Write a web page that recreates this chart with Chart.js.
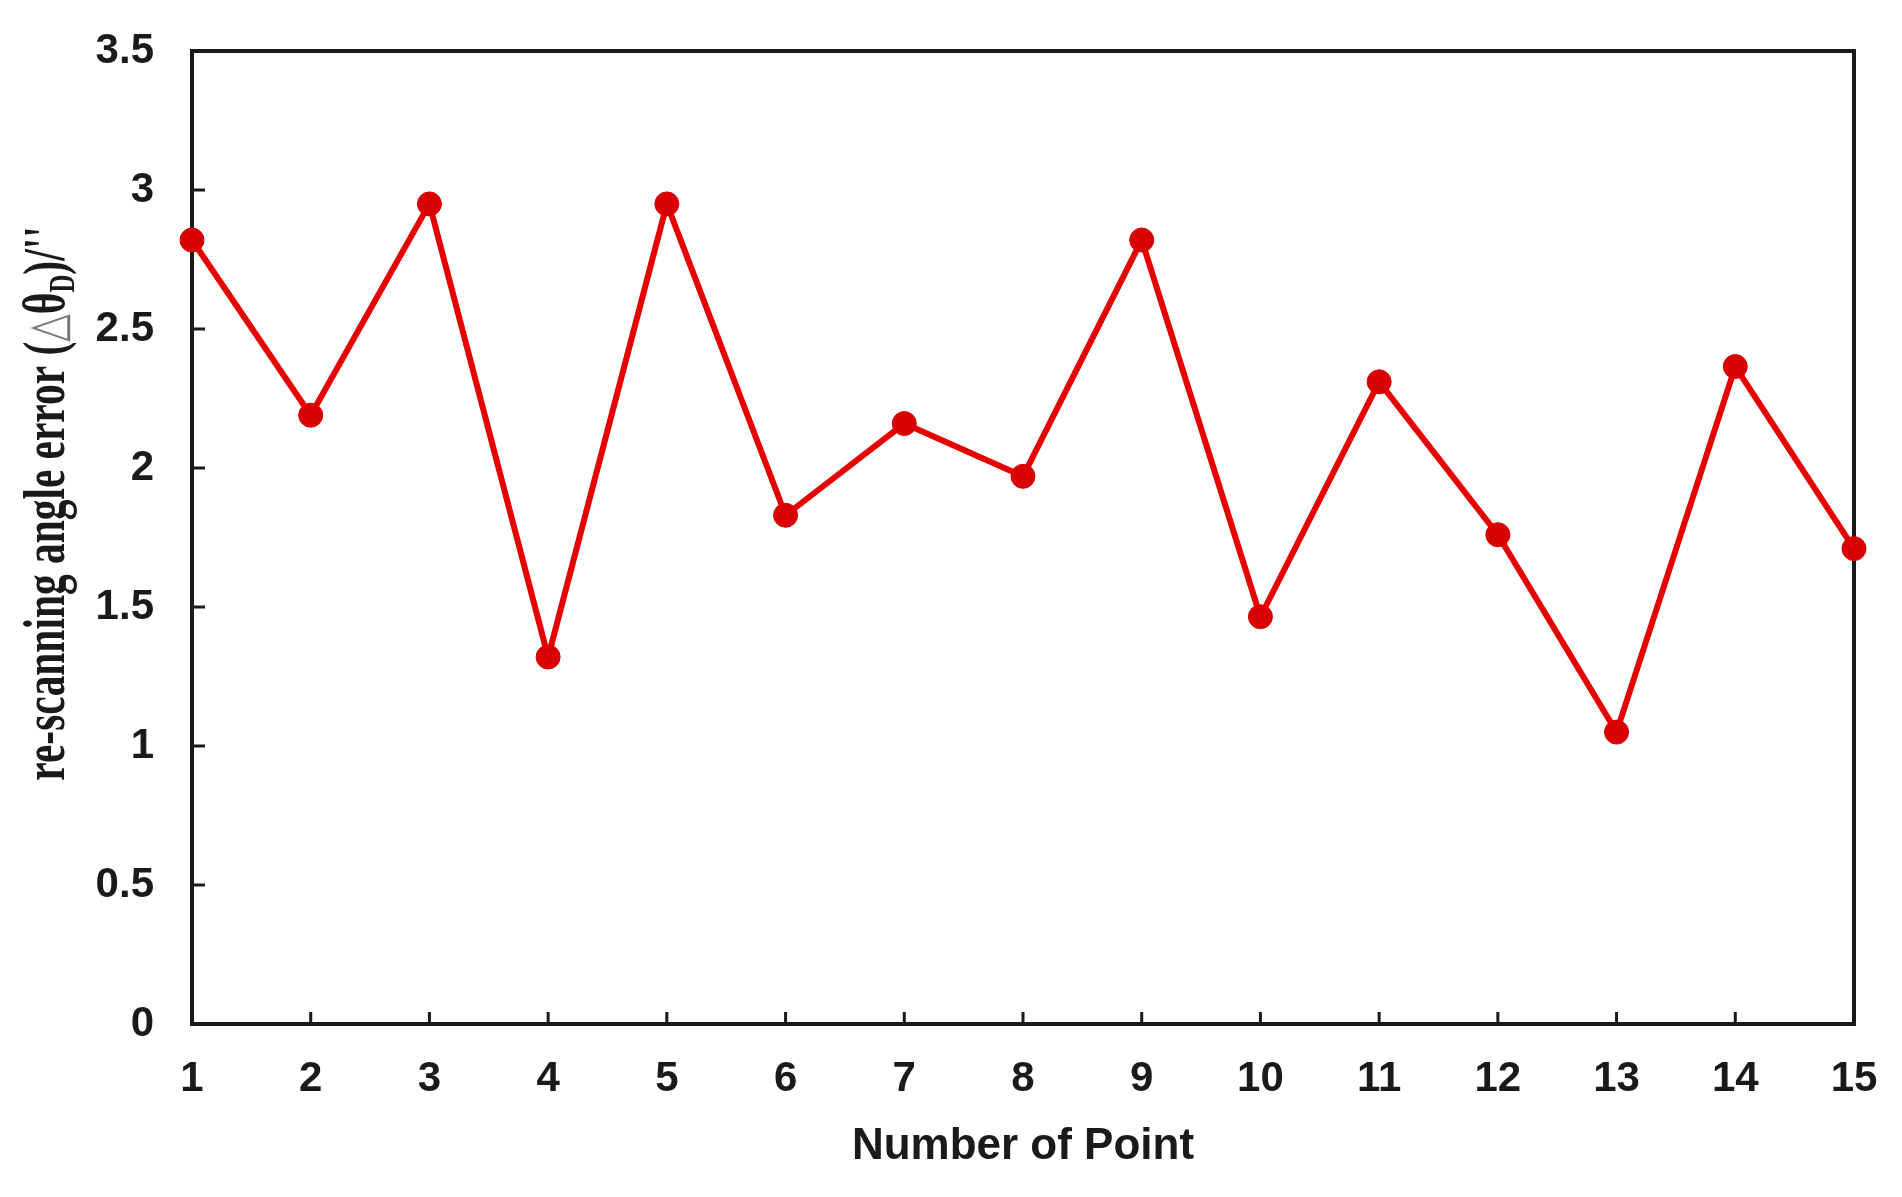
<!DOCTYPE html>
<html>
<head>
<meta charset="utf-8">
<title>re-scanning angle error</title>
<script src="https://cdn.jsdelivr.net/npm/chart.js@4.4.1/dist/chart.umd.min.js"></script>
<style>
  html, body { margin: 0; padding: 0; background: #fff; overflow: hidden; }
  #wrap { width: 1902px; height: 1197px; position: relative; }
</style>
</head>
<body>
<div id="wrap"><canvas id="errChart"></canvas></div>
<script>
// data
const pointLabels = ['1', '2', '3', '4', '5', '6', '7', '8', '9', '10', '11', '12', '13', '14', '15'];
const angleError = [2.82, 2.19, 2.95, 1.32, 2.95, 1.83, 2.16, 1.97, 2.82, 1.465, 2.31, 1.76, 1.05, 2.365, 1.71];
const yTicks = [0, 0.5, 1, 1.5, 2, 2.5, 3, 3.5];
const xTitle = 'Number of Point';

const sansBold = '"Liberation Sans", Arial, Helvetica, sans-serif';
const serif = '"Liberation Serif", "Times New Roman", serif';

// black box round the plot and short inward tick marks
const frameAndTicks = {
    id: 'frameAndTicks',
    beforeDatasetsDraw(chart) {
        const {ctx, chartArea: a, scales: {x, y}} = chart;
        ctx.save();
        ctx.strokeStyle = '#1a1a1a';
        ctx.lineWidth = 3;
        ctx.beginPath();
        yTicks.forEach(v => {
            const py = y.getPixelForValue(v);
            ctx.moveTo(a.left, py);
            ctx.lineTo(a.left + 13, py);
        });
        pointLabels.forEach((l, i) => {
            const px = x.getPixelForValue(i);
            ctx.moveTo(px, a.bottom);
            ctx.lineTo(px, a.bottom - 12);
        });
        ctx.stroke();
        ctx.lineWidth = 4;
        ctx.strokeRect(a.left, a.top, a.right - a.left, a.bottom - a.top);
        ctx.restore();
    }
};

// y title needs a subscript, so it is drawn by hand
const yTitle = {
    id: 'yTitle',
    afterDraw(chart) {
        const {ctx, chartArea: a} = chart;
        const parts = [
            {text: 're-scanning angle error (', font: 'bold 60px ' + serif, color: '#1a1a1a', dy: 0},
            {text: '\u25B3', font: '52px "DejaVu Sans", sans-serif', color: '#777', dy: 0},
            {text: '\u03B8', font: 'bold 60px ' + serif, color: '#1a1a1a', dy: 0},
            {text: 'D', font: 'bold 36px ' + serif, color: '#1a1a1a', dy: 10},
            {text: ")/''", font: 'bold 60px ' + serif, color: '#1a1a1a', dy: 0}
        ];
        ctx.save();
        ctx.translate(64, (a.top + a.bottom) / 2 - 34);
        ctx.rotate(-Math.PI / 2);
        ctx.scale(0.69, 1);
        ctx.textBaseline = 'alphabetic';
        ctx.textAlign = 'left';
        let total = 0;
        parts.forEach(p => { ctx.font = p.font; p.w = ctx.measureText(p.text).width; total += p.w; });
        let cx = -total / 2;
        parts.forEach(p => {
            ctx.font = p.font;
            ctx.fillStyle = p.color;
            ctx.fillText(p.text, cx, p.dy);
            cx += p.w;
        });
        ctx.restore();
    }
};

const ctx = document.getElementById('errChart').getContext('2d');
const errChart = new Chart(ctx, {
    type: 'line',
    data: {
        labels: pointLabels,
        datasets: [
            {
                data: angleError,
                borderColor: '#e60000',
                borderWidth: 6,
                backgroundColor: '#d80000',
                pointBackgroundColor: '#d80000',
                pointBorderColor: '#d80000',
                pointBorderWidth: 1,
                pointRadius: 12,
                tension: 0,
                clip: false
            }
        ]
    },
    options: {
        responsive: true,
        maintainAspectRatio: false,
        animation: false,
        layout: {
            padding: {top: 51, right: 48, left: 0, bottom: 0}
        },
        plugins: {
            legend: {display: false},
            tooltip: {enabled: false}
        },
        scales: {
            x: {
                offset: false,
                // tick length only used as the gap to the labels, the marks are drawn by the plugin
                grid: {display: false, drawTicks: true, tickLength: 30},
                border: {display: false},
                ticks: {
                    padding: 0,
                    color: '#1a1a1a',
                    maxRotation: 0,
                    autoSkip: false,
                    font: {family: sansBold, size: 42, weight: 'bold'}
                },
                title: {
                    display: true,
                    text: xTitle,
                    color: '#1a1a1a',
                    font: {family: sansBold, size: 44, weight: 'bold'},
                    padding: {top: 0, bottom: 24}
                },
                afterFit(scale) { scale.height = 173; }
            },
            y: {
                min: 0,
                max: 3.5,
                grid: {display: false, drawTicks: true, tickLength: 38},
                border: {display: false},
                afterBuildTicks(scale) { scale.ticks = yTicks.map(v => ({value: v})); },
                ticks: {
                    padding: 0,
                    color: '#1a1a1a',
                    font: {family: sansBold, size: 42, weight: 'bold'},
                    callback: v => String(v)
                },
                afterFit(scale) { scale.width = 192; }
            }
        }
    },
    plugins: [frameAndTicks, yTitle]
});
</script>
</body>
</html>
